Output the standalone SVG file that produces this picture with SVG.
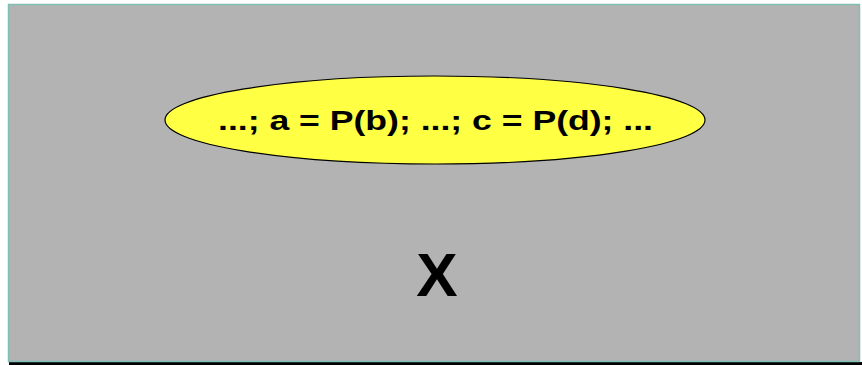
<svg xmlns="http://www.w3.org/2000/svg" width="862" height="365" viewBox="0 0 862 365">
<style>
.t{font-family:"Liberation Sans",Arial,sans-serif;font-weight:bold;fill:#000;text-anchor:middle}
</style>
<rect x="0" y="0" width="862" height="365" fill="#ffffff"/>
<rect x="9" y="362" width="853" height="3" fill="#000"/>
<rect x="8.5" y="4.5" width="851" height="357" fill="#b3b3b3" stroke="#7fbfb5" stroke-width="1.5"/>
<g id="stmt">
<ellipse cx="435" cy="120" rx="270" ry="44" fill="#ffff44" stroke="#000" stroke-width="1.2"/>
<text class="t" x="435.5" y="130" font-size="28" textLength="435" lengthAdjust="spacingAndGlyphs">...; a = P(b); ...; c = P(d); ...</text>
</g>
<g id="x">
<text class="t" x="437" y="296" font-size="62">X</text>
</g>
<g id="connectors"/>
</svg>
